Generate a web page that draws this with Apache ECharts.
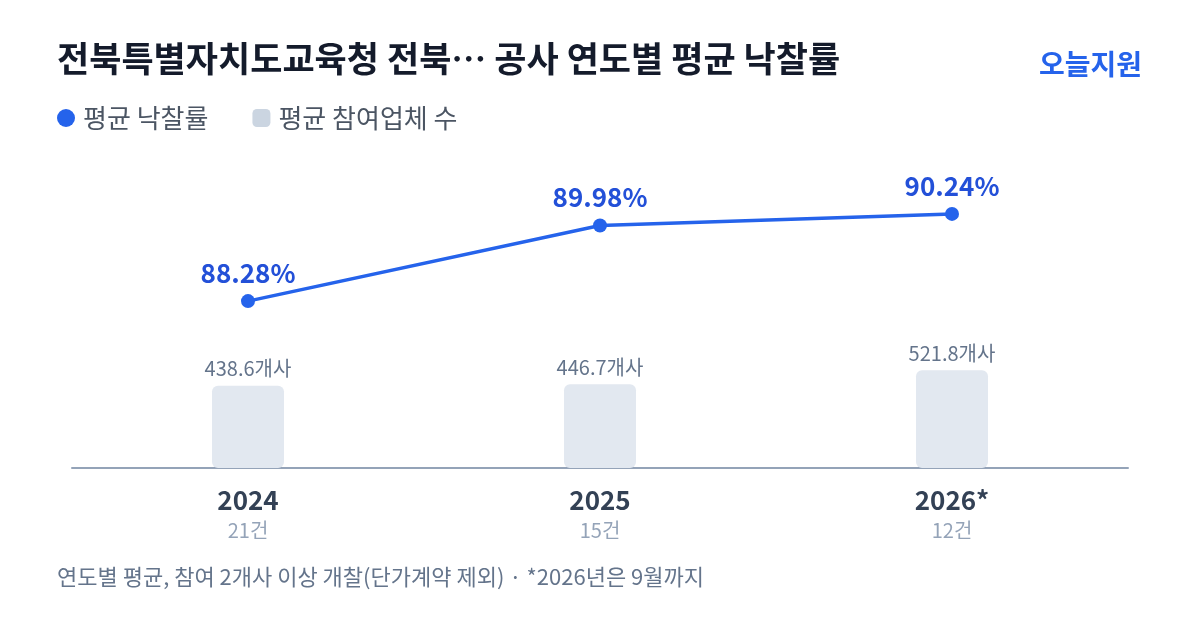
<!DOCTYPE html>
<html>
<head>
<meta charset="utf-8">
<script src="https://cdn.jsdelivr.net/npm/echarts@6/dist/echarts.min.js"></script>
<style>
  html, body { margin: 0; padding: 0; background: #fff; }
  #chart { width: 1200px; height: 630px; }
</style>
</head>
<body>
<div id="chart"></div>
<script>
var years = ['2024', '2025', '2026*'];
var counts = ['21건', '15건', '12건'];
var avgRate = [88.28, 89.98, 90.24];
var avgBidders = [438.6, 446.7, 521.8];

var font = '"Noto Sans CJK KR", "Noto Sans", sans-serif';
var chart = echarts.init(document.getElementById('chart'));

var option = {
    backgroundColor: '#ffffff',
    textStyle: { fontFamily: font },
    title: [
        {
            text: '전북특별자치도교육청 전북… 공사 연도별 평균 낙찰률',
            left: 52, top: 36,
            textStyle: { fontSize: 35, fontWeight: 'bold', color: '#141b2b', fontFamily: font }
        },
        {
            text: '오늘지원',
            right: 53, top: 45,
            textStyle: { fontSize: 28, fontWeight: 'bold', color: '#2563eb', fontFamily: font }
        },
        {
            text: '연도별 평균, 참여 2개사 이상 개찰(단가계약 제외) · *2026년은 9월까지',
            left: 52, top: 561,
            textStyle: { fontSize: 22, fontWeight: 'normal', color: '#64748b', fontFamily: font }
        }
    ],
    legend: {
        left: 52, top: 100,
        itemGap: 44,
        itemWidth: 18, itemHeight: 18,
        textStyle: { fontSize: 26, color: '#4b5563', fontFamily: font, padding: [0, 0, 0, 3] },
        data: [
            { name: '평균 낙찰률', icon: 'circle', itemStyle: { color: '#2563eb' } },
            { name: '평균 참여업체 수', icon: 'roundRect', itemStyle: { color: '#cbd5e1' } }
        ]
    },
    grid: { left: 72, right: 72, top: 140, bottom: 162 },
    xAxis: {
        type: 'category',
        data: years,
        axisLine: { lineStyle: { color: '#94a3b8', width: 2 } },
        axisTick: { show: false },
        axisLabel: {
            margin: 17,
            formatter: function (v, i) {
                return '{y|' + v + '}\n{c|' + counts[i] + '}';
            },
            rich: {
                y: { fontSize: 26, fontWeight: 'bold', color: '#334155', fontFamily: font, lineHeight: 30 },
                c: { fontSize: 20, color: '#94a3b8', fontFamily: font, lineHeight: 30 }
            }
        }
    },
    yAxis: [
        { type: 'value', min: 84.53, max: 91.9, show: false, splitLine: { show: false } },
        { type: 'value', min: 0, max: 1749, show: false, splitLine: { show: false } }
    ],
    series: [
        {
            name: '평균 참여업체 수',
            type: 'bar',
            yAxisIndex: 1,
            data: avgBidders,
            barWidth: 72,
            itemStyle: { color: '#e2e8f0', borderRadius: 6 },
            label: {
                show: true, position: 'top', distance: 7,
                formatter: function (p) { return p.value + '개사'; },
                fontSize: 20, color: '#64748b', fontFamily: font
            },
            z: 1
        },
        {
            name: '평균 낙찰률',
            type: 'line',
            yAxisIndex: 0,
            data: avgRate,
            symbol: 'circle',
            symbolSize: 14,
            lineStyle: { color: '#2563eb', width: 3.5 },
            itemStyle: { color: '#2563eb' },
            label: {
                show: true, position: 'top', distance: 8,
                formatter: function (p) { return p.value.toFixed(2) + '%'; },
                fontSize: 26, fontWeight: 'bold', color: '#2350d8', fontFamily: font
            },
            z: 3
        }
    ]
};

chart.setOption(option);
</script>
</body>
</html>
